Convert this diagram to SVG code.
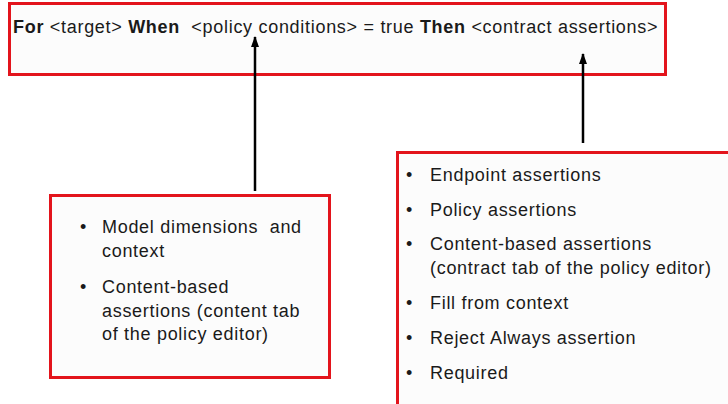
<svg xmlns="http://www.w3.org/2000/svg" width="728" height="404" viewBox="0 0 728 404">
<defs>
<style>
text{font-family:"Liberation Sans",Arial,sans-serif;font-size:18px;letter-spacing:0.7px;fill:#1a1a1a;white-space:pre}
.b{font-weight:bold}
.box{fill:#fcfcfc;stroke:#e3141c;stroke-width:3}
.con{stroke:#000;stroke-width:2.5;fill:none}
</style>
<marker id="ah" markerWidth="11" markerHeight="8" refX="10" refY="4" orient="auto" markerUnits="userSpaceOnUse" viewBox="0 0 11 8">
<path d="M0,0 L11,4 L0,8 Z" fill="#000"/>
</marker>
</defs>
<rect width="728" height="404" fill="#fff"/>
<g id="top">
<rect class="box" x="9.5" y="3.5" width="656" height="71"/>
<text x="13" y="33" xml:space="preserve"><tspan class="b">For</tspan> &lt;target&gt; <tspan class="b">When</tspan>  &lt;policy conditions&gt; = true <tspan class="b">Then</tspan> &lt;contract assertions&gt;</text>
</g>
<g id="conditions">
<rect class="box" x="50.5" y="195.5" width="279" height="182"/>
<text x="80" y="233">•</text><text x="102" y="233" xml:space="preserve">Model dimensions  and</text>
<text x="102" y="257">context</text>
<text x="80" y="293">•</text><text x="102" y="293">Content-based</text>
<text x="102" y="317">assertions (content tab</text>
<text x="102" y="340">of the policy editor)</text>
</g>
<g id="assertions">
<rect class="box" x="397.5" y="152.5" width="340" height="260"/>
<text x="406" y="181">•</text><text x="430" y="181">Endpoint assertions</text>
<text x="406" y="216">•</text><text x="430" y="216">Policy assertions</text>
<text x="406" y="250">•</text><text x="430" y="250">Content-based assertions</text>
<text x="430" y="274">(contract tab of the policy editor)</text>
<text x="406" y="309">•</text><text x="430" y="309">Fill from context</text>
<text x="406" y="344">•</text><text x="430" y="344">Reject Always assertion</text>
<text x="406" y="379">•</text><text x="430" y="379">Required</text>
</g>
<g id="connectors">
<line class="con" x1="255" y1="191" x2="255" y2="37" marker-end="url(#ah)"/>
<line class="con" x1="583" y1="143" x2="583" y2="54" marker-end="url(#ah)"/>
</g>
</svg>
